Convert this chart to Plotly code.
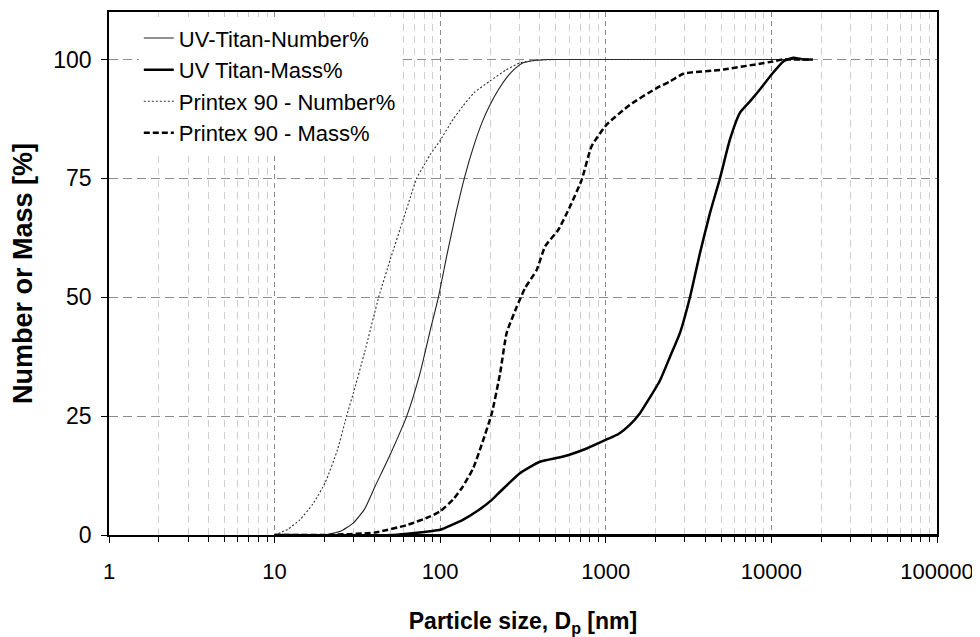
import plotly.graph_objects as go

# ---- data (particle size in nm, cumulative %) ----
uv_num_x = [20, 25, 29.8, 35, 40.4, 50, 62.8, 75.5, 87, 97.5, 110, 125, 141, 160, 180, 200, 225, 252, 285, 317, 370, 450, 1000, 10000, 17000]
uv_num_y = [0, 0.8, 2.5, 5.5, 10.2, 17, 25, 34, 43, 50, 59, 68, 75.5, 82, 87, 90.5, 93.7, 96.2, 98.2, 99.3, 99.8, 100, 100, 100, 100]

uv_mass_x = [10, 52, 70, 87, 100, 137, 170, 205, 230, 303, 400, 554, 767, 1000, 1200, 1400, 1600, 1800, 2124, 2443, 2805, 3222, 3705, 4255, 4890, 5620, 6455, 7420, 8520, 10000, 11800, 13560, 15600, 17800]
uv_mass_y = [0, 0, 0.4, 0.8, 1.1, 3.2, 5.2, 7.4, 9.1, 13, 15.4, 16.5, 18.2, 20, 21.3, 23.2, 25.5, 28.3, 32.5, 37.5, 42.5, 50, 59.3, 67.7, 75, 83.2, 88.8, 91.2, 93.7, 96.8, 99.6, 100.4, 100, 100]

px_num_x = [10, 12, 14.2, 17, 20.2, 24, 27.2, 30, 35, 42.5, 50, 60, 66, 72, 80, 87, 100, 120, 137, 160, 200, 250, 303, 400, 500, 17000]
px_num_y = [0, 1.2, 3.2, 6.5, 11, 18, 25, 30, 38.5, 50, 58, 66.5, 71, 75, 77.8, 80, 83, 87.5, 90.2, 93, 95.5, 97.8, 99.3, 99.9, 100, 100]

px_mass_x = [10, 20, 40, 63, 87, 100, 120, 137, 158, 180, 205, 230, 252, 290, 325, 383, 430, 517, 608, 715, 822, 1012, 1400, 2030, 2443, 2940, 5130, 10240, 11700, 17500]
px_mass_y = [0, 0, 0.5, 2.1, 3.9, 5, 7.5, 10.2, 14, 19.5, 25.6, 34, 42.5, 48, 51.9, 55.8, 60.7, 64.2, 69.1, 74.7, 81.8, 86.3, 90.5, 94, 95.4, 97, 97.9, 99.6, 100, 100]

baseline_x = [10, 100000]
baseline_y = [0, 0]

x_major = [1, 10, 100, 1000, 10000, 100000]
x_major_text = ["1", "10", "100", "1000", "10000", "100000"]
y_ticks = [0, 25, 50, 75, 100]

x_minor = [m * d for d in [1, 10, 100, 1000, 10000] for m in range(2, 10)]

FONT = "Liberation Sans, Arial, sans-serif"

fig = go.Figure()
fig.add_trace(go.Scatter(x=baseline_x, y=baseline_y, mode="lines",
                         line=dict(color="black", width=2.2), showlegend=False, hoverinfo="skip"))
fig.add_trace(go.Scatter(x=uv_num_x, y=uv_num_y, mode="lines", name="UV-Titan-Number%",
                         line=dict(color="#222222", width=1.1, shape="spline", smoothing=0.5)))
fig.add_trace(go.Scatter(x=uv_mass_x, y=uv_mass_y, mode="lines", name="UV Titan-Mass%",
                         line=dict(color="black", width=2.5, shape="spline", smoothing=0.5)))
fig.add_trace(go.Scatter(x=px_num_x, y=px_num_y, mode="lines", name="Printex 90 - Number%",
                         line=dict(color="#333333", width=1.1, dash="2px,2px", shape="spline", smoothing=0.5)))
fig.add_trace(go.Scatter(x=px_mass_x, y=px_mass_y, mode="lines", name="Printex 90 - Mass%",
                         line=dict(color="black", width=2.5, dash="6px,3px", shape="spline", smoothing=0.5)))

# page has an 8px body margin: figure is 972x629 so that the plot sits at the reference position
fig.update_layout(
    width=972, height=629,
    margin=dict(l=101, r=43, t=4, b=102),
    paper_bgcolor="white", plot_bgcolor="white",
    font=dict(family=FONT, size=22, color="black"),
    legend=dict(x=0.036, y=0.99, xanchor="left", yanchor="top",
                bgcolor="white", borderwidth=0, font=dict(size=22),
                tracegroupgap=0),
)

fig.update_xaxes(
    type="log", range=[0, 5], automargin=False,
    tickvals=x_major, ticktext=x_major_text,
    ticks="outside", ticklen=6, tickcolor="black", tickwidth=1,
    ticklabelstandoff=10,
    showline=True, linecolor="black", linewidth=1.5, mirror=True,
    showgrid=True, gridcolor="#8c8c8c", griddash="5px,4px", gridwidth=1,
    minor=dict(tickvals=x_minor, ticks="outside", ticklen=5, tickcolor="black",
               showgrid=True, gridcolor="#cfcfcf", griddash="7px,5px", gridwidth=1),
    tickfont=dict(size=22),
    title=dict(text="<b>Particle size, D<sub>p</sub> [nm]</b>", font=dict(size=23), standoff=33),
)

fig.update_yaxes(
    range=[0, 110], tickvals=y_ticks, automargin=False,
    ticks="outside", ticklen=6, tickcolor="black",
    ticklabelstandoff=5,
    showline=True, linecolor="black", linewidth=1.5, mirror=True,
    showgrid=True, gridcolor="#8c8c8c", griddash="9px,5px", gridwidth=1,
    zeroline=False,
    tickfont=dict(size=23),
    title=dict(text="<b>Number or Mass [%]</b>", font=dict(size=27), standoff=20),
)

fig.write_html("out.html")
